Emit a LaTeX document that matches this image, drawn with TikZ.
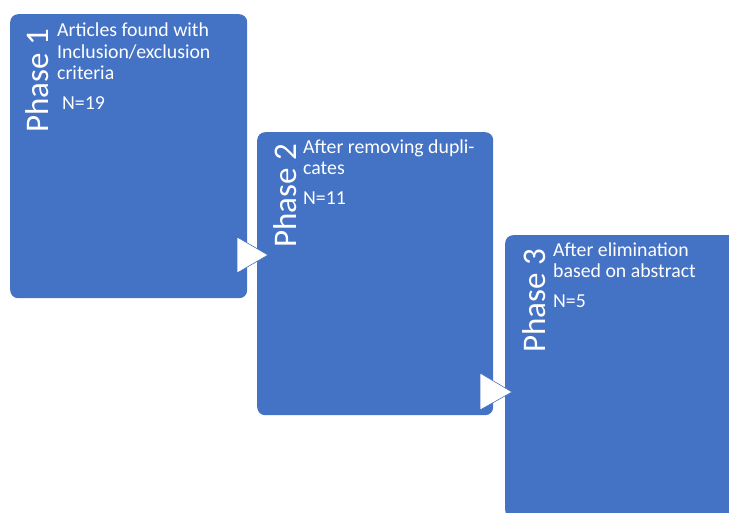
\documentclass[tikz,border=0pt]{standalone}
\usepackage{fontspec}
\setmainfont{Carlito}
\usepackage{tikz}
\usetikzlibrary{positioning}
\definecolor{phaseblue}{HTML}{4472C4}
\tikzset{
  phasebox/.style={fill=phaseblue, rounded corners=8pt, inner sep=0pt, anchor=north west},
  phaselabel/.style={text=white, rotate=90, anchor=base west, inner sep=0pt,
    font=\fontsize{33}{40}\selectfont},
  phasetext/.style={text=white, anchor=base west, inner sep=0pt, align=left,
    font=\fontsize{19.8}{21.5}\selectfont},
  notch/.style={fill=white, draw=phaseblue, line width=0.6pt}
}

\begin{document}
\begin{tikzpicture}[x=1pt,y=-1pt]
\useasboundingbox (0,0) rectangle (729,513);
\clip (0,0) rectangle (729,513);

% Phase boxes
\node[phasebox, minimum width=237pt, minimum height=284pt] (box1) at (10,14) {};
\node[phasebox, minimum width=236pt, minimum height=283pt] (box2) at (257,132) {};
\node[phasebox, minimum width=260pt, minimum height=283pt] (box3) at (505,235) {};

% Notches between the boxes
\filldraw[notch] (237,237) -- (268,255) -- (237,273) -- cycle;
\filldraw[notch] (480,373) -- (512,392) -- (480,410) -- cycle;

% Phase labels
\node[phaselabel] (label1) at (48,133) {Phase 1};
\node[phaselabel] (label2) at (296,248) {Phase 2};
\node[phaselabel] (label3) at (545,353) {Phase 3};

% Descriptions (anchored on their last line) and counts
\node[phasetext] (text1) at (57,80) {Articles found with\\Inclusion/exclusion\\criteria};
\node[phasetext] (count1) at (62,110) {N=19};
\node[phasetext] (text2) at (303,175) {After removing dupli-\\cates};
\node[phasetext] (count2) at (303,205) {N=11};
\node[phasetext] (text3) at (553,278) {After elimination\\based on abstract};
\node[phasetext] (count3) at (553,308) {N=5};

\end{tikzpicture}
\end{document}
